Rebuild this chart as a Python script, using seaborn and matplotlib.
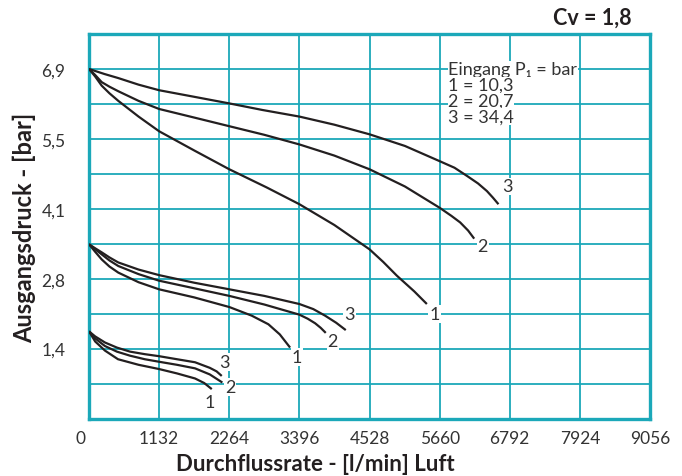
import numpy as np
import pandas as pd
import matplotlib
matplotlib.use("Agg")
import matplotlib.pyplot as plt
import matplotlib.transforms as mtransforms
import seaborn as sns

# ---- data (l/min, bar) ----
x_ticks = [0, 1132, 2264, 3396, 4528, 5660, 6792, 7924, 9056]
y_tick_vals = [1.38, 2.76, 4.14, 5.52, 6.9]
y_tick_labels = ["1,4", "2,8", "4,1", "5,5", "6,9"]

# outlet 6.9 bar group
hi3_x = [0, 250, 473, 800, 1132, 1700, 2264, 2800, 3396, 3960, 4528, 5100, 5660, 5900, 6100, 6280, 6423, 6520, 6610]
hi3_y = [6.90, 6.80, 6.72, 6.59, 6.48, 6.35, 6.22, 6.09, 5.96, 5.80, 5.61, 5.38, 5.08, 4.95, 4.79, 4.64, 4.49, 4.36, 4.23]
hi2_x = [0, 100, 205, 330, 473, 800, 1132, 1700, 2264, 2830, 3396, 3960, 4528, 5100, 5660, 5850, 5992, 6120, 6218]
hi2_y = [6.90, 6.78, 6.64, 6.55, 6.46, 6.27, 6.11, 5.94, 5.77, 5.60, 5.41, 5.19, 4.92, 4.58, 4.16, 4.00, 3.87, 3.71, 3.55]
hi1_x = [0, 100, 205, 330, 473, 800, 1132, 1700, 2264, 2870, 3396, 3960, 4528, 4750, 4969, 5250, 5454]
hi1_y = [6.90, 6.75, 6.57, 6.42, 6.27, 5.96, 5.67, 5.29, 4.92, 4.56, 4.23, 3.82, 3.34, 3.09, 2.82, 2.51, 2.26]

# outlet 3.45 bar group
mid3_x = [0, 100, 205, 330, 473, 800, 1132, 1700, 2266, 2830, 3396, 3620, 3811, 3990, 4145]
mid3_y = [3.44, 3.36, 3.28, 3.18, 3.08, 2.94, 2.83, 2.68, 2.55, 2.42, 2.26, 2.16, 2.03, 1.89, 1.745]
mid2_x = [0, 100, 205, 330, 473, 800, 1132, 1700, 2266, 2830, 3396, 3530, 3650, 3740, 3822]
mid2_y = [3.44, 3.34, 3.24, 3.12, 3.01, 2.85, 2.72, 2.57, 2.42, 2.25, 2.05, 1.97, 1.88, 1.79, 1.69]
mid1_x = [0, 100, 205, 330, 473, 800, 1132, 1700, 2266, 2627, 2896, 3080, 3246]
mid1_y = [3.44, 3.29, 3.14, 3.00, 2.88, 2.69, 2.55, 2.39, 2.20, 2.03, 1.86, 1.66, 1.40]

# outlet 1.72 bar group
low3_x = [0, 100, 258, 450, 662, 900, 1132, 1420, 1712, 1950, 2060, 2143]
low3_y = [1.72, 1.62, 1.50, 1.40, 1.32, 1.27, 1.23, 1.17, 1.11, 1.00, 0.93, 0.84]
low2_x = [0, 100, 258, 450, 662, 900, 1132, 1420, 1712, 1950, 2153]
low2_y = [1.72, 1.58, 1.43, 1.32, 1.24, 1.17, 1.12, 1.06, 0.99, 0.87, 0.71]
low1_x = [0, 100, 258, 468, 800, 1132, 1420, 1712, 1860, 1982]
low1_y = [1.72, 1.52, 1.34, 1.17, 1.06, 0.976, 0.89, 0.79, 0.70, 0.58]

# curve labels
lab_text = ["3", "2", "1", "3", "2", "1", "3", "2", "1"]
lab_x = [6751, 6358, 5577, 4204, 3935, 3354, 2186, 2277, 1954]
lab_y = [4.58, 3.41, 2.06, 2.06, 1.52, 1.21, 1.11, 0.615, 0.33]

legend_lines = ["Eingang P\u2081 = bar", "1 = 10,3", "2 = 20,7", "3 = 34,4"]

curves = {
    "hi3": (hi3_x, hi3_y), "hi2": (hi2_x, hi2_y), "hi1": (hi1_x, hi1_y),
    "mid3": (mid3_x, mid3_y), "mid2": (mid2_x, mid2_y), "mid1": (mid1_x, mid1_y),
    "low3": (low3_x, low3_y), "low2": (low2_x, low2_y), "low1": (low1_x, low1_y),
}
rows = []
for cid, (xs, ys) in curves.items():
    for i, (xv, yv) in enumerate(zip(xs, ys)):
        rows.append({"id": cid, "order": i, "flow": xv, "p": yv})
df = pd.DataFrame(rows)

sns.set_theme(style="white")
FONT = ["Lato", "DejaVu Sans"]
plt.rcParams["font.family"] = FONT

TEAL = "#1ba8b9"
INK = "#231f20"
TXT = "#333333"

fig = plt.figure(figsize=(6.82, 4.77), dpi=100)
ax = fig.add_axes([89 / 682, 1 - 419.5 / 477, (650 - 89) / 682, (419.5 - 35) / 477])

sns.lineplot(data=df, x="flow", y="p", units="id", estimator=None, sort=False,
             color=INK, lw=1.6, ax=ax, zorder=3)
for ln in ax.lines:
    ln.set_solid_joinstyle("round")
    ln.set_solid_capstyle("butt")

ax.set_xlim(0, 9056)
ax.set_ylim(0, 7.59)
ax.set_xticks(x_ticks)
ax.set_xticklabels([str(v) for v in x_ticks])
ax.set_yticks(y_tick_vals)
ax.set_yticklabels(y_tick_labels)
ax.tick_params(axis="both", which="both", length=0, labelsize=12.5, colors=TXT)
ax.tick_params(axis="y", pad=17)
ax.tick_params(axis="x", pad=8)

# the "0" label sits slightly left of the axis in the reference
zero_lab = ax.get_xticklabels()[0]
zero_lab.set_transform(zero_lab.get_transform() +
                       mtransforms.ScaledTranslation(-9 / 100, 0, fig.dpi_scale_trans))

ax.grid(False)
for xv in x_ticks[1:-1]:
    ax.axvline(xv, color=TEAL, lw=1.3, zorder=1)
for k in range(1, 11):
    ax.axhline(0.69 * k, color=TEAL, lw=1.3, zorder=1)
for s in ax.spines.values():
    s.set_color(TEAL)
    s.set_linewidth(2.4)

ax.set_xlabel("")
ax.set_ylabel("")

for t, xv, yv in zip(lab_text, lab_x, lab_y):
    ax.text(xv, yv, t, ha="center", va="center", fontsize=13, color=TXT, zorder=4,
            bbox=dict(facecolor="white", edgecolor="none", pad=0.6))

leg_y0 = 6.90
for i, line in enumerate(legend_lines):
    ax.text(5800, leg_y0 - i * 0.315, line, ha="left", va="center", fontsize=13,
            color=TXT, zorder=4,
            bbox=dict(facecolor="white", edgecolor="none", pad=0.3))

fig.text(315 / 682, 1 - 465 / 477, "Durchflussrate - [l/min] Luft", ha="center", va="center",
         fontsize=16, fontweight="bold", color=INK)
fig.text(24 / 682, 1 - 228 / 477, "Ausgangsdruck - [bar]", ha="center", va="center",
         rotation=90, fontsize=17, fontweight="bold", color=INK)
fig.text(592 / 682, 1 - 18 / 477, "Cv = 1,8", ha="center", va="center",
         fontsize=15.5, fontweight="bold", color=INK)

fig.savefig("out.png", dpi=100)
